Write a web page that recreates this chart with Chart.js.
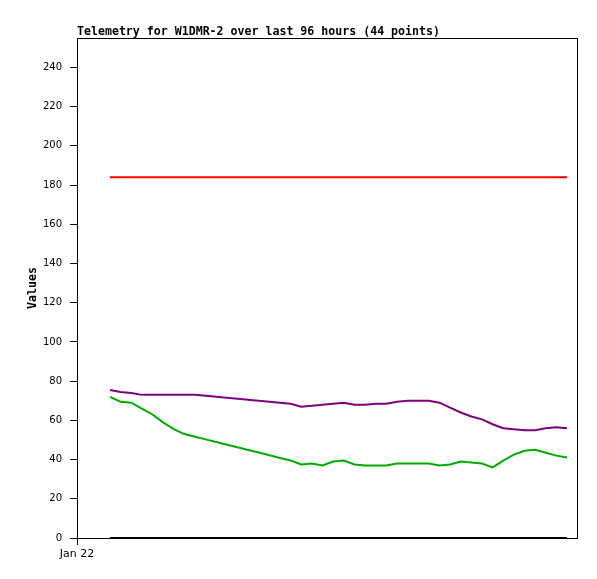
<!DOCTYPE html>
<html>
<head>
<meta charset="utf-8">
<script src="https://cdn.jsdelivr.net/npm/chart.js@4/dist/chart.umd.min.js"></script>
<style>
  body { margin: 0; background: #fff; }
</style>
</head>
<body>
<canvas id="telemetryChart" width="597" height="579"></canvas>
<script>
// 44 samples, evenly spaced, x = sample index
const samples = Array.from({ length: 44 }, (_, i) => i);

const purpleValues = [75.5, 74.5, 74, 73, 73, 73, 73, 73, 73, 72.5, 72, 71.5, 71, 70.5, 70, 69.5,
  69, 68.5, 67, 67.5, 68, 68.5, 69, 68, 68, 68.5, 68.5, 69.5, 70, 70, 70, 69, 66.5, 64, 62, 60.5,
  58, 56, 55.5, 55, 55, 56, 56.5, 56];
const greenValues = [72, 69.5, 69, 66, 63, 59, 55.5, 53, 51.6, 50.3, 49, 47.6, 46.3, 44.9, 43.6, 42.2,
  40.8, 39.5, 37.5, 38, 37, 39, 39.5, 37.5, 37, 37, 37, 38, 38, 38, 38, 37, 37.5, 39, 38.5, 38,
  36, 39.5, 42.5, 44.5, 45, 43.5, 42, 41];
const redValues = samples.map(() => 184);
const blackValues = samples.map(() => 0);

const yTicks = [0, 20, 40, 60, 80, 100, 120, 140, 160, 180, 200, 220, 240];
const xStart = -3.1;
const xEnd = 43.94;

const toPoints = vals => vals.map((v, i) => ({ x: samples[i], y: v }));

const framePlugin = {
  id: 'frame',
  afterDraw(chart) {
    const { ctx, chartArea: a } = chart;
    ctx.save();
    ctx.strokeStyle = '#000';
    ctx.lineWidth = 1;
    ctx.strokeRect(a.left + 0.5, a.top + 0.5, a.right - a.left, a.bottom - a.top);
    ctx.fillStyle = '#000';
    ctx.font = 'bold 11.6px "DejaVu Sans Mono"';
    ctx.textBaseline = 'alphabetic';
    ctx.fillText('Telemetry for W1DMR-2 over last 96 hours (44 points)', a.left, 35);
    ctx.restore();
  }
};

const ds = (vals, color) => ({
  data: toPoints(vals),
  borderColor: color,
  borderWidth: 2,
  pointRadius: 0,
  tension: 0,
  fill: false
});

new Chart(document.getElementById('telemetryChart'), {
  type: 'line',
  data: {
    datasets: [
      ds(blackValues, '#000000'),
      ds(redValues, '#ff0000'),
      ds(greenValues, '#00aa00'),
      ds(purpleValues, '#7f007f')
    ]
  },
  options: {
    responsive: false,
    animation: false,
    layout: { padding: { top: 38, right: 20, left: 0, bottom: 0 } },
    plugins: { legend: { display: false }, tooltip: { enabled: false } },
    scales: {
      x: {
        type: 'linear',
        min: xStart,
        max: xEnd,
        afterBuildTicks: s => { s.ticks = [{ value: xStart }]; },
        afterFit: s => { s.height = 41; },
        grid: { drawOnChartArea: false, tickLength: 7, color: '#000' },
        border: { color: '#000' },
        ticks: {
          color: '#000',
          font: { family: 'DejaVu Sans', size: 11 },
          maxRotation: 0,
          padding: 3,
          callback: () => 'Jan 22'
        }
      },
      y: {
        min: 0,
        max: 255,
        afterBuildTicks: s => { s.ticks = yTicks.map(v => ({ value: v })); },
        afterFit: s => { s.width = 77; },
        grid: { drawOnChartArea: false, tickLength: 7, color: '#000' },
        border: { color: '#000' },
        ticks: {
          color: '#000',
          font: { family: 'DejaVu Sans', size: 10 },
          padding: 8
        },
        title: {
          display: true,
          text: 'Values',
          color: '#000',
          font: { family: 'DejaVu Sans Mono', size: 11.6, weight: 'bold' },
          padding: { top: 26, bottom: 0 }
        }
      }
    }
  },
  plugins: [framePlugin]
});
</script>
</body>
</html>
